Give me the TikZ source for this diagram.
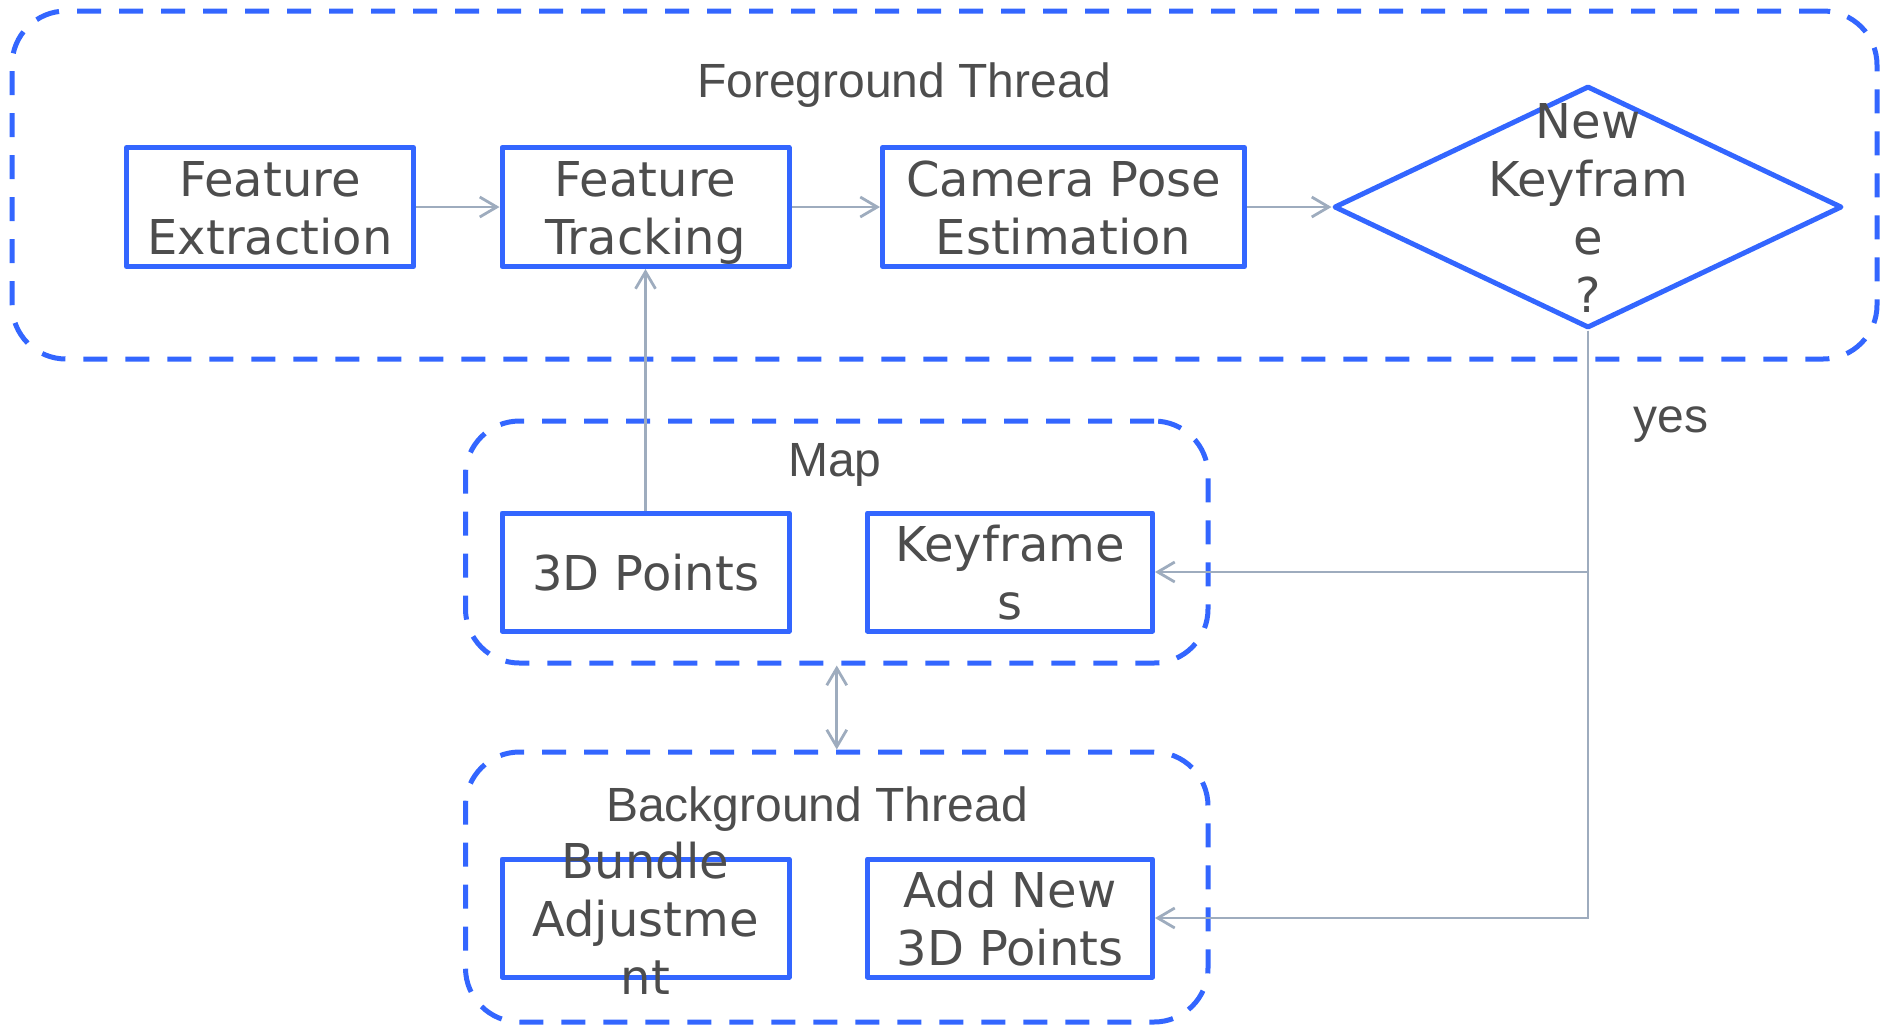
\documentclass[tikz,border=0pt]{standalone}
\usepackage{fontspec}
\setmainfont{DejaVu Sans}
\newfontfamily\titlefont{Liberation Sans}
\usetikzlibrary{shapes.geometric,arrows.meta}
\definecolor{threadblue}{HTML}{3366FF}
\definecolor{linkgray}{HTML}{9EACBE}
\definecolor{inkgray}{HTML}{4D4D4D}
% fixed-height strut so every text line has the same height and depth
\newcommand\rowstrut{\rule[-0.21em]{0pt}{1.19em}}
\tikzset{barb/.tip={Straight Barb[length=8.5pt,width=10pt]}}

\begin{document}
\begin{tikzpicture}[x=0.5pt,y=-0.5pt,
  thread/.style={rectangle, draw=threadblue, line width=2.5pt,
    dash pattern=on 12pt off 9pt, rounded corners=27pt, inner sep=0pt},
  stagebox/.style={rectangle, draw=threadblue, line width=2.5pt,
    line join=round, inner sep=0pt, minimum height=59.5pt},
  decision/.style={diamond, draw=threadblue, line width=2.5pt,
    line join=round, inner sep=0pt, minimum width=254pt, minimum height=121pt},
  boxtext/.style={text=inkgray, align=center, inner sep=0pt,
    font=\fontsize{24pt}{29pt}\selectfont},
  title/.style={text=inkgray, anchor=base, inner sep=0pt,
    font=\titlefont\fontsize{24pt}{29pt}\selectfont},
  link/.style={draw=linkgray, line width=1.4pt, -barb},
]
\useasboundingbox (0,0) rectangle (1880,1025);

% thread containers
\node[thread, minimum width=932.5pt, minimum height=174pt] (fg) at (944.5,185) {};
\node[thread, minimum width=371.25pt, minimum height=121pt] (map) at (836.75,542) {};
\node[thread, minimum width=371.25pt, minimum height=135pt] (bg) at (836.75,887) {};

% container titles
\node[title] (fg-title) at (904,97) {Foreground Thread};
\node[title] (map-title) at (835,476) {Map};
\node[title] (bg-title) at (817,821) {Background Thread};

% foreground stages
\node[stagebox, minimum width=143.5pt] (fe) at (270,207) {};
\node[boxtext] (fe-text) at (fe) {\rowstrut Feature\\\rowstrut Extraction};
\node[stagebox, minimum width=143.5pt] (ft) at (645.5,207) {};
\node[boxtext] (ft-text) at (ft) {\rowstrut Feature\\\rowstrut Tracking};
\node[stagebox, minimum width=181pt] (cpe) at (1063.5,207) {};
\node[boxtext] (cpe-text) at (cpe) {\rowstrut Camera Pose\\\rowstrut Estimation};
\node[decision] (kf) at (1588,207) {};
\node[boxtext] (kf-text) at (kf) {\rowstrut New\\\rowstrut Keyfram\\\rowstrut e\\\rowstrut ?};

% map contents
\node[stagebox, minimum width=143.5pt, minimum height=59pt] (pts) at (645.5,572) {};
\node[boxtext] (pts-text) at (pts) {\rowstrut 3D Points};
\node[stagebox, minimum width=142.5pt, minimum height=59pt] (kfs) at (1010,572) {};
\node[boxtext] (kfs-text) at (kfs) {\rowstrut Keyframe\\\rowstrut s};

% background stages
\node[stagebox, minimum width=143.5pt, minimum height=59pt] (ba) at (645.5,918) {};
\node[boxtext] (ba-text) at (ba) {\rowstrut Bundle\\\rowstrut Adjustme\\\rowstrut nt};
\node[stagebox, minimum width=142.5pt, minimum height=59pt] (anp) at (1010,918) {};
\node[boxtext] (anp-text) at (anp) {\rowstrut Add New\\\rowstrut 3D Points};

% connectors
\draw[link] (fe) -- (ft);
\draw[link] (ft) -- (cpe);
\draw[link] (cpe) -- (kf);
\draw[link] (pts) -- (ft);
\draw[link, barb-barb] (map) -- (bg);
\draw[link] (kf.south) |- (kfs.east);
\draw[link] (kf.south) |- (anp.east);
\node[title] (yes) at (1671,432) {yes};
\end{tikzpicture}
\end{document}
